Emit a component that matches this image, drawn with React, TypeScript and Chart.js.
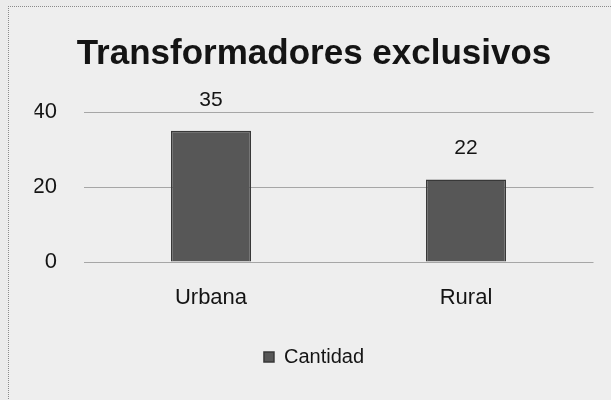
import React, { useEffect, useRef } from "react";
import { Chart, registerables } from "chart.js";

Chart.register(...registerables);

const categories = ["Urbana", "Rural"];
const cantidad = [35, 22];
const yTicks = [0, 20, 40];
const seriesName = "Cantidad";
const chartTitle = "Transformadores exclusivos";

const FONT = "'Liberation Sans', Arial, sans-serif";
const INK = "#141414";

// Writes each bar's value above it.
const valueLabels = {
  id: "valueLabels",
  afterDatasetsDraw(chart: any) {
    const { ctx } = chart;
    const meta = chart.getDatasetMeta(0);
    const values = chart.data.datasets[0].data as number[];
    ctx.save();
    ctx.font = `21px ${FONT}`;
    ctx.fillStyle = INK;
    ctx.textAlign = "center";
    ctx.textBaseline = "middle";
    meta.data.forEach((bar: any, i: number) => {
      ctx.fillText(String(values[i]), bar.x, bar.y - 31);
    });
    ctx.restore();
  },
};

export default function App() {
  const canvasRef = useRef<HTMLCanvasElement | null>(null);

  useEffect(() => {
    if (!canvasRef.current) return;
    const chart = new Chart(canvasRef.current, {
      type: "bar",
      data: {
        labels: categories,
        datasets: [
          {
            label: seriesName,
            data: cantidad,
            backgroundColor: "#575757",
            borderColor: "#383838",
            borderWidth: 1.5,
            categoryPercentage: 0.314,
            barPercentage: 1,
          },
        ],
      },
      options: {
        responsive: false,
        animation: false,
        layout: { padding: { left: 25.5, right: 21.5, top: 0, bottom: 23 } },
        plugins: {
          title: {
            display: true,
            text: chartTitle,
            color: INK,
            font: { family: FONT, size: 35, weight: "bold" },
            padding: { top: 26, bottom: 37 },
          },
          legend: {
            display: true,
            position: "bottom",
            labels: {
              color: INK,
              boxWidth: 10,
              boxHeight: 10,
              padding: 10,
              font: { family: FONT, size: 20 },
            },
          },
          tooltip: { enabled: false },
        },
        scales: {
          x: {
            grid: { display: false, drawTicks: false },
            border: { display: false },
            ticks: {
              color: INK,
              padding: 23,
              font: { family: FONT, size: 22 },
            },
            afterFit(scale: any) {
              scale.height = 75;
            },
          },
          y: {
            min: 0,
            max: 40,
            grid: { color: "#a6a6a6", lineWidth: 1, drawTicks: false },
            border: { display: false },
            afterBuildTicks(scale: any) {
              scale.ticks = yTicks.map((v) => ({ value: v }));
            },
            ticks: {
              color: INK,
              padding: 26.5,
              font: { family: FONT, size: 22 },
            },
            afterFit(scale: any) {
              scale.width = 49;
            },
          },
        },
      },
      plugins: [valueLabels],
    });
    return () => chart.destroy();
  }, []);

  return (
    <div
      style={{
        position: "fixed",
        inset: 0,
        background: "#ebebeb",
        overflow: "hidden",
      }}
    >
      <div
        style={{
          position: "absolute",
          left: 8,
          top: 6,
          width: 640,
          height: 420,
          borderLeft: "1px dotted #8a8a8a",
          borderTop: "1px dotted #8a8a8a",
          background: "#eeeeee",
        }}
      >
        <canvas ref={canvasRef} width={606} height={393} style={{ display: "block" }} />
      </div>
    </div>
  );
}
